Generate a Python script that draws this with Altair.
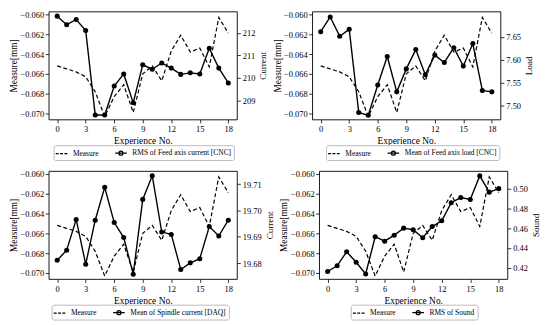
import altair as alt
import pandas as pd

exp_no = list(range(19))
measure = [-0.0652, -0.0655, -0.0658, -0.0663, -0.0678, -0.0703, -0.0683, -0.0671, -0.0699,
           -0.0660, -0.0652, -0.0667, -0.0637, -0.0621, -0.0638, -0.0634, -0.0653, -0.0603, -0.0619]
feed_current = [212.75, 212.37, 212.60, 212.11, 208.34, 208.34, 209.63, 210.17, 208.88, 210.58,
                210.38, 210.66, 210.43, 210.15, 210.22, 210.17, 211.32, 210.43, 209.77]
feed_load = [7.661, 7.693, 7.651, 7.666, 7.485, 7.479, 7.545, 7.607, 7.530, 7.580,
             7.622, 7.567, 7.610, 7.594, 7.626, 7.586, 7.635, 7.533, 7.530]
spindle_current = [19.6811, 19.6849, 19.6966, 19.6796, 19.6963, 19.7088, 19.6954, 19.6897, 19.6758,
                   19.7042, 19.7132, 19.6918, 19.6909, 19.6776, 19.6801, 19.6817, 19.6939, 19.6903, 19.6963]
sound = [0.4161, 0.4219, 0.4361, 0.4255, 0.4136, 0.4513, 0.4468, 0.4529, 0.4600, 0.4584,
         0.4503, 0.4616, 0.4674, 0.4858, 0.4910, 0.4890, 0.5129, 0.4964, 0.5000]

x_ticks = [0, 3, 6, 9, 12, 15, 18]
measure_ticks = [-0.070, -0.068, -0.066, -0.064, -0.062, -0.060]
measure_name = "Measure"

panels = [
    dict(values=feed_current, title="Current", name="RMS of Feed axis current [CNC]",
         domain=[208.14, 212.96], ticks=[209, 210, 211, 212], fmt="d", lx=5),
    dict(values=feed_load, title="Load", name="Mean of Feed axis load [CNC]",
         domain=[7.470, 7.705], ticks=[7.50, 7.55, 7.60, 7.65], fmt=".2f", lx=14),
    dict(values=spindle_current, title="Current", name="Mean of Spindle current [DAQ]",
         domain=[19.6740, 19.7150], ticks=[19.68, 19.69, 19.70, 19.71], fmt=".2f", lx=3),
    dict(values=sound, title="Sound", name="RMS of Sound",
         domain=[0.4086, 0.5179], ticks=[0.42, 0.44, 0.46, 0.48, 0.50], fmt=".2f", lx=32),
]

DASH = "M-1.3,0H-0.65M-0.33,0H0.33M0.65,0H1.3"
LINEDOT = "M-1.3,0H1.3M-0.45,0A0.45,0.45,0,1,0,0.45,0A0.45,0.45,0,1,0,-0.45,0Z"
SERIF = "Liberation Serif"

axis_style = dict(titleFont=SERIF, labelFont=SERIF, titleFontWeight="normal",
                  titleColor="black", labelColor="black", labelFontSize=8.5)


def make_panel(p):
    df = pd.DataFrame({"x": exp_no, "measure": measure, "sensor": p["values"]})
    base = alt.Chart(df)
    xenc = alt.X("x:Q", scale=alt.Scale(domain=[-0.9, 18.9], nice=False, zero=False),
                 axis=alt.Axis(values=x_ticks, title="Experience No.", format="d",
                               titleFontSize=9.5, titlePadding=2.5, **axis_style))
    m = base.mark_line(color="black", strokeDash=[4, 2.5], strokeWidth=1.2).encode(
        x=xenc,
        y=alt.Y("measure:Q", scale=alt.Scale(domain=[-0.0706, -0.0597], nice=False, zero=False),
                axis=alt.Axis(values=measure_ticks, format=".3f", title="Measure[mm]", orient="left",
                              titleFontSize=9.5, titlePadding=1.5, labelPadding=1.5, **axis_style)),
    )
    s = base.mark_line(color="black", strokeWidth=1.4,
                       point=alt.OverlayMarkDef(filled=True, color="black", size=26, opacity=1)).encode(
        x=xenc,
        y=alt.Y("sensor:Q", scale=alt.Scale(domain=p["domain"], nice=False, zero=False),
                axis=alt.Axis(values=p["ticks"], format=p["fmt"], title=p["title"], orient="right",
                              titleFontSize=9.2, titleAngle=270, titleBaseline="top",
                              titlePadding=4, **axis_style)),
    )
    leg_df = pd.DataFrame({"series": [measure_name, p["name"]]})
    lg = alt.Chart(leg_df).mark_point(color="black", strokeWidth=1.2, opacity=1).encode(
        shape=alt.Shape("series:N",
                        scale=alt.Scale(domain=[measure_name, p["name"]], range=[DASH, LINEDOT]),
                        legend=alt.Legend(orient="none", legendX=p["lx"], legendY=135,
                                          direction="horizontal", title=None,
                                          symbolSize=81, symbolStrokeWidth=1.2,
                                          symbolStrokeColor="black", symbolFillColor="black",
                                          symbolOpacity=1,
                                          labelFont=SERIF, labelFontSize=7.5, labelColor="black",
                                          labelOffset=6, columnPadding=14, padding=2.5,
                                          strokeColor="#bbbbbb", fillColor="white",
                                          cornerRadius=2))
    ).transform_filter("false")
    return alt.layer(m, s, lg).resolve_scale(y="independent", shape="independent").properties(
        width=190, height=109)


charts = [make_panel(p) for p in panels]
chart = alt.vconcat(
    alt.hconcat(charts[0], charts[1], spacing=3),
    alt.hconcat(charts[2], charts[3], spacing=3),
    spacing=8,
).properties(padding={"left": 0, "top": 0, "right": 0, "bottom": 0}).configure(
    font=SERIF,
).configure_view(
    stroke="black", strokeWidth=0.9
).configure_axis(
    labelFont=SERIF, titleFont=SERIF, labelFontSize=8.5, titleFontSize=9.5,
    titleFontWeight="normal", grid=False, domain=False, tickColor="black",
    labelColor="black", titleColor="black", tickSize=3.5, tickWidth=0.8,
    labelPadding=2, titlePadding=3
)

chart.save("out.html", embed_options={"renderer": "svg", "actions": False})
